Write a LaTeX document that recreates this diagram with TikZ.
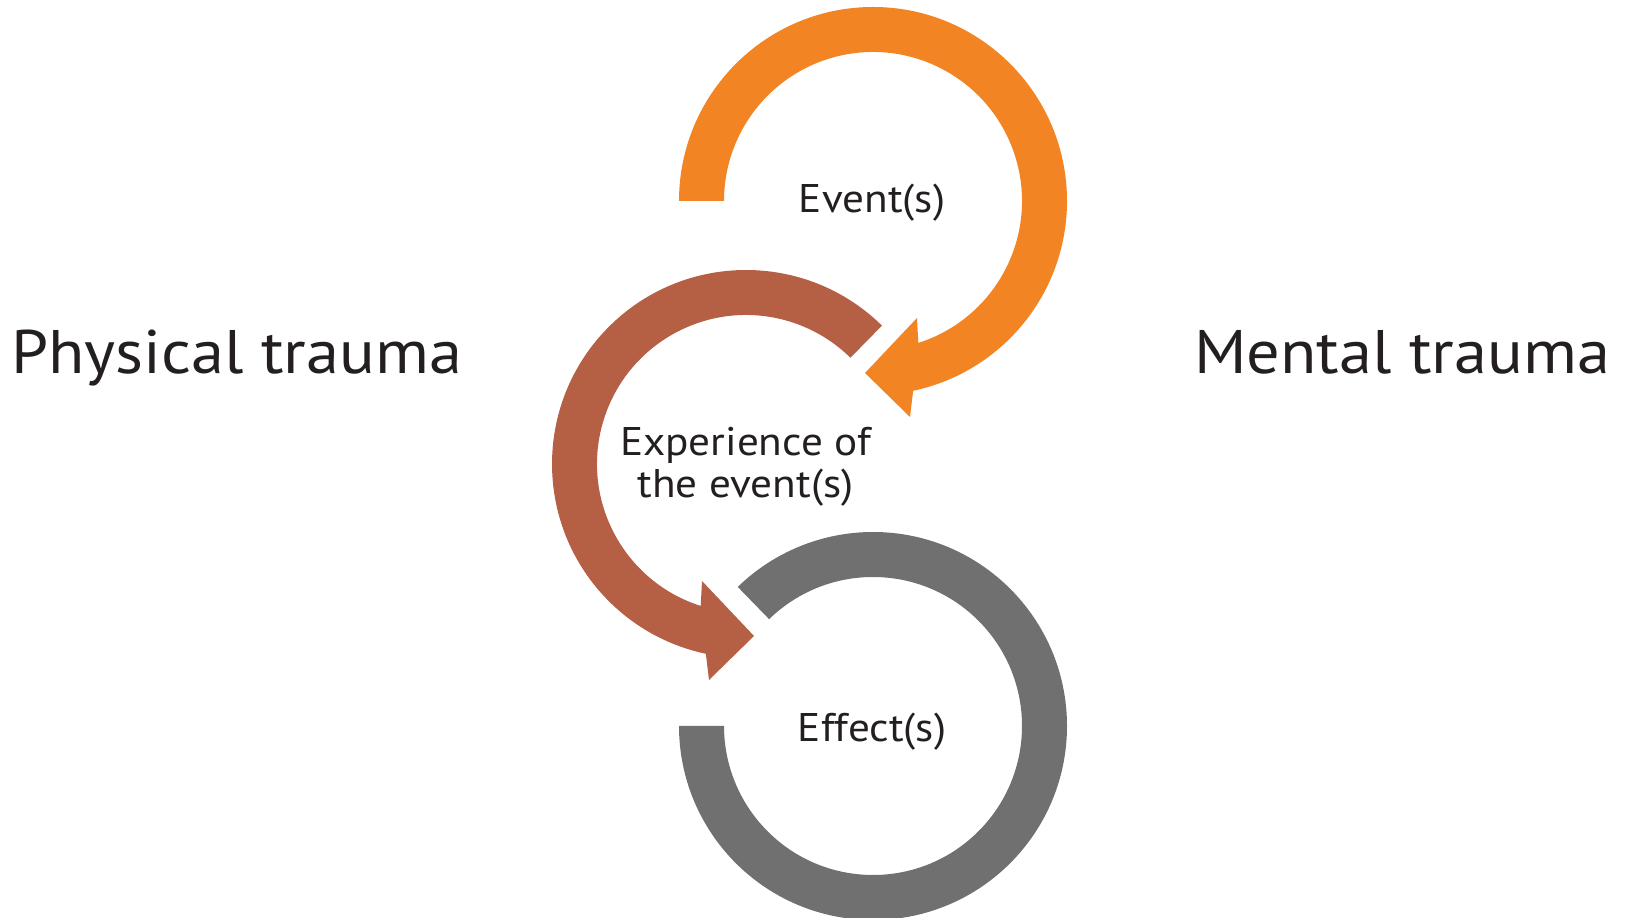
\documentclass[tikz,border=0pt]{standalone}
\usepackage{fontspec}
\usepackage{graphicx}
\setmainfont{PT Sans}
\definecolor{arcorange}{RGB}{243,132,35}
\definecolor{arcbrown}{RGB}{181,95,69}
\definecolor{arcgray}{RGB}{112,112,112}
\definecolor{inktext}{RGB}{35,31,32}
% slightly widened lettering
\newcommand{\widetext}[1]{\scalebox{1.08}[1]{#1}}
\begin{document}
\begin{tikzpicture}[x=1pt,y=1pt,
  label/.style={inner sep=0pt,text=inktext,font=\fontsize{40}{44}\selectfont,anchor=base},
  sidelabel/.style={inner sep=0pt,text=inktext,font=\fontsize{61.5}{66}\selectfont,anchor=base west}]
\useasboundingbox (0,0) rectangle (1630,918);
\clip (0,0) rectangle (1630,918);

% Event(s): orange ring, clockwise, arrowhead at the bottom
\begin{scope}[shift={(873,717)}]
  \fill[arcorange] (180:194) arc[start angle=180,end angle=-78.05,radius=194]
    -- (37,-216) -- (-8,-172) -- (44,-117) -- (-72.3:149)
    arc[start angle=-72.3,end angle=180,radius=149] -- cycle;
\end{scope}

% Experience of the event(s): brown ring, counter-clockwise, arrowhead at the bottom
\begin{scope}[shift={(746,454)}]
  \fill[arcbrown] (45.5:194) arc[start angle=45.5,end angle=258.05,radius=194]
    -- (-37,-216) -- (8,-172) -- (-44,-117) -- (252.3:149)
    arc[start angle=252.3,end angle=45.5,radius=149] -- cycle;
\end{scope}

% Effect(s): grey ring, open at the upper left
\begin{scope}[shift={(873,192)}]
  \fill[arcgray] (180:194) arc[start angle=180,end angle=494.2,radius=194]
    -- (494.2:149) arc[start angle=494.2,end angle=180,radius=149] -- cycle;
\end{scope}

\node[label] (event) at (872,705) {\widetext{Event(s)}};
\node[label] (exp1) at (745.5,462) {\widetext{Experience of}};
\node[label] (exp2) at (745.5,420) {\widetext{the event(s)}};
\node[label] (effect) at (872,176) {\widetext{Effect(s)}};

\node[sidelabel] (physical) at (11,544) {\widetext{Physical trauma}};
\node[sidelabel] (mental) at (1194,544) {\widetext{Mental trauma}};
\end{tikzpicture}
\end{document}
